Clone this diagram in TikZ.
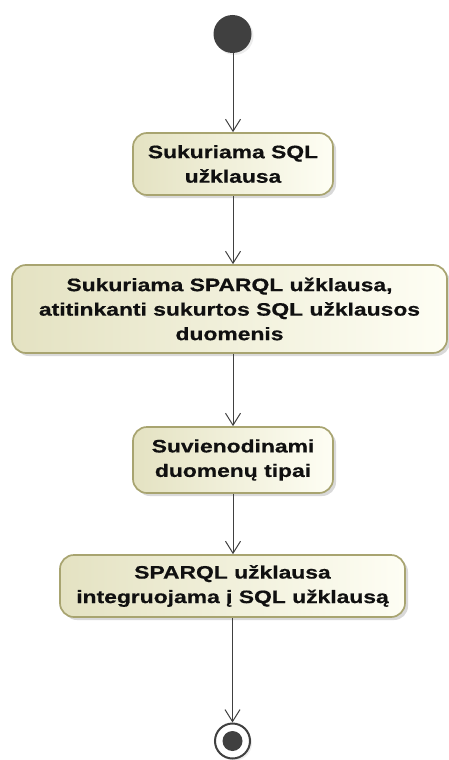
\documentclass[tikz,border=0pt]{standalone}
\usepackage{fontspec}
\setmainfont{Liberation Sans}[FakeStretch=1.27,BoldFeatures={FakeBold=0.6,FakeStretch=1.27}]
\usetikzlibrary{arrows.meta,shadows}
\definecolor{actborder}{RGB}{168,164,112}
\definecolor{actdark}{RGB}{228,226,194}
\definecolor{actlight}{RGB}{254,254,244}
\definecolor{flowline}{RGB}{64,64,64}
\definecolor{nodedark}{RGB}{64,64,64}
\definecolor{labeltext}{RGB}{16,16,16}
\begin{document}
\begin{tikzpicture}[x=1pt,y=-1pt,
  action/.style={draw=actborder, line width=1.7pt, rounded corners=14pt,
    left color=actdark, right color=actlight, align=center, text=labeltext,
    font=\bfseries\fontsize{18}{24.5}\selectfont, inner sep=0pt,
    drop shadow={shadow xshift=3pt,shadow yshift=-3pt,opacity=0.3}},
  flow/.style={draw=flowline, line width=1pt,
    -{Straight Barb[length=12pt,width=15pt]}}]
\useasboundingbox (0,0) rectangle (449,760);

% start and end states
\node[circle, fill=nodedark, minimum size=38pt, inner sep=0pt,
  drop shadow={shadow xshift=2pt,shadow yshift=-2pt,opacity=0.15}] (ini) at (232.5,34) {};
\node[circle, draw=nodedark, line width=2pt, fill=white, minimum size=35pt, inner sep=0pt,
  drop shadow={shadow xshift=2pt,shadow yshift=-2pt,opacity=0.15}] (fin) at (232.5,741) {};
\node[circle, fill=nodedark, minimum size=20pt, inner sep=0pt] (finDot) at (fin.center) {};

% actions
\node[action, minimum width=200pt, minimum height=62pt] (a1) at (233,164)
  {Sukuriama SQL\\užklausa};
\node[action, minimum width=435pt, minimum height=88pt] (a2) at (229.5,309)
  {Sukuriama SPARQL užklausa,\\atitinkanti sukurtos SQL užklausos\\duomenis};
\node[action, minimum width=200pt, minimum height=66pt] (a3) at (233,460)
  {Suvienodinami\\duomenų tipai};
\node[action, minimum width=345pt, minimum height=62pt] (a4) at (232.5,586)
  {SPARQL užklausa\\integruojama į SQL užklausą};

% control flows
\draw[flow] (ini.south -| a1) -- (a1.north);
\draw[flow] (a1.south) -- (a1.south |- a2.north);
\draw[flow] (a2.south -| a3) -- (a3.north);
\draw[flow] (a3.south) -- (a3.south |- a4.north);
\draw[flow] (a4.south -| fin) -- (fin.north);
\end{tikzpicture}
\end{document}
